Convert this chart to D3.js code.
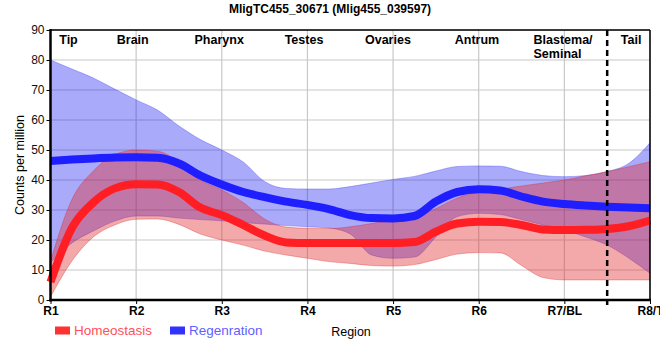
<!DOCTYPE html>
<html><head><meta charset="utf-8">
<script src="https://cdn.jsdelivr.net/npm/d3@7"></script>
<style>body{margin:0;background:#fff}svg{display:block;font-family:"Liberation Sans",Arial,sans-serif}</style>
</head><body>
<svg id="c" width="660" height="360"></svg>
<script>
const title = "MligTC455_30671 (Mlig455_039597)";
const regions = ["R1","R2","R3","R4","R5","R6","R7/BL","R8/T"];
const yTicks = [0,10,20,30,40,50,60,70,80,90];
const tissueNames = ["Tip","Brain","Pharynx","Testes","Ovaries","Antrum","Blastema/|Seminal","Tail"];
const tissuePos = [0.21,0.96,1.97,2.96,3.94,4.98,5.64,6.78];
const seriesNames = ["Homeostasis","Regenration"];
const pos = [0,0.25,0.5,0.75,1,1.25,1.5,1.75,2,2.25,2.5,2.75,3,3.25,3.5,3.75,4,4.25,4.5,4.75,5,5.25,5.5,5.75,6,6.25,6.5,6.75,7];
const homeoMean  = [6,24,32.5,37.2,38.6,38.5,36,30.8,28.3,25,21.5,19.2,19,19,19,19,19,19.3,22.8,25.5,26.1,26,25,23.5,23.3,23.4,23.7,24.6,26.5];
const homeoUpper = [13,33.5,43,48.5,50,49.6,46,40,36.7,32.5,27,24.3,23.9,23.8,24.4,25.5,26.7,27.8,30.5,34,36.1,37,38,39,40,41.4,42.8,44.4,46.1];
const homeoLower = [1,13,21,25,26.9,27,25.2,22,20,18.3,16.3,15,13.9,12.8,12.2,11.5,11.3,11.8,13.5,15.3,15.8,15.7,11.5,7.5,6.7,6.7,6.7,6.7,6.7];
const regenMean  = [46.3,46.8,47.2,47.5,47.6,47.4,45.5,41.5,38.5,36,34.3,32.8,31.7,30.3,28.3,27.3,27.2,28,32.8,36,36.9,36.5,34.5,32.8,32,31.5,31.1,30.8,30.6];
const regenUpper = [80,77,74,70.3,66.7,63.3,58,53.5,50,46,39.5,37.2,37,37,37.8,39,40.2,41.2,43,44.5,44.7,44.6,42.8,41.5,41.1,41.5,42.8,45.5,52.4];
const regenLower = [12.5,19,23,26.3,28,28,27.3,26.8,26.4,25.8,25.3,24.8,24.4,24,22,15,13.9,14.3,21,27.8,28.9,28.5,26.8,25,23.3,21,18.3,14,8.9];
const boundaryPos = 6.5;

const svg = d3.select("#c");
const L = 50.5, R = 650, T = 30, B = 300;
const x = d3.scaleLinear().domain([0,7]).range([L,R]);
const y = d3.scaleLinear().domain([0,90]).range([B,T]);

svg.append("defs").append("clipPath").attr("id","clip")
  .append("rect").attr("x",L).attr("y",T).attr("width",R-L).attr("height",B-T);

// grid
const g = svg.append("g");
g.selectAll(".gy").data(yTicks).join("line")
  .attr("x1",L).attr("x2",R).attr("y1",d=>y(d)).attr("y2",d=>y(d))
  .attr("stroke","#c8c8c8").attr("stroke-width",1.2);
g.selectAll(".gx").data(d3.range(regions.length)).join("line")
  .attr("x1",d=>x(d)).attr("x2",d=>x(d)).attr("y1",T).attr("y2",B)
  .attr("stroke","#c8c8c8").attr("stroke-width",1.2);

const pts = (arr) => pos.map((p,i)=>({p, v:arr[i]}));
const band = (lo,hi) => pos.map((p,i)=>({p, lo:lo[i], hi:hi[i]}));
const area = d3.area().x(d=>x(d.p)).y0(d=>y(d.lo)).y1(d=>y(d.hi)).curve(d3.curveMonotoneX);
const line = d3.line().x(d=>x(d.p)).y(d=>y(d.v)).curve(d3.curveMonotoneX);

const plot = svg.append("g").attr("clip-path","url(#clip)");
plot.append("path").attr("d",area(band(regenLower,regenUpper)))
  .attr("fill","rgb(20,20,245)").attr("fill-opacity",0.36)
  .attr("stroke","rgb(60,60,240)").attr("stroke-opacity",0.35).attr("stroke-width",1);
svg.append("path").attr("d",line(pts(regenMean)))
  .attr("fill","none").attr("stroke","rgb(30,30,255)").attr("stroke-width",8);
plot.append("path").attr("d",area(band(homeoLower,homeoUpper)))
  .attr("fill","rgb(225,40,40)").attr("fill-opacity",0.4)
  .attr("stroke","rgb(220,40,40)").attr("stroke-opacity",0.35).attr("stroke-width",1);
svg.append("path").attr("d",line(pts(homeoMean)))
  .attr("fill","none").attr("stroke","rgb(255,30,35)").attr("stroke-width",8);

// dashed boundary
svg.append("line").attr("x1",x(boundaryPos)).attr("x2",x(boundaryPos)).attr("y1",T).attr("y2",B+5)
  .attr("stroke","#000").attr("stroke-width",2.5).attr("stroke-dasharray","6,4");

// borders
svg.append("line").attr("x1",L).attr("x2",R).attr("y1",T).attr("y2",T).attr("stroke","#000").attr("stroke-width",1.5);
svg.append("line").attr("x1",R).attr("x2",R).attr("y1",T).attr("y2",B).attr("stroke","#000").attr("stroke-width",1.5);

// axes
const ya = svg.append("g").attr("transform",`translate(${L},0)`)
  .call(d3.axisLeft(y).tickValues(yTicks).tickSize(4).tickPadding(2));
ya.select(".domain").remove();
ya.selectAll("text").attr("font-size",12).attr("fill","#111").attr("font-family","Liberation Sans, Arial");
const xa = svg.append("g").attr("transform",`translate(0,${B})`)
  .call(d3.axisBottom(x).tickValues(d3.range(regions.length)).tickFormat(i=>regions[i]).tickSize(4).tickPadding(2));
xa.select(".domain").remove();
xa.selectAll("text").attr("font-size",12).attr("font-weight","bold").attr("fill","#000").attr("font-family","Liberation Sans, Arial");
svg.append("line").attr("x1",L).attr("x2",L).attr("y1",T-1).attr("y2",B+1.5).attr("stroke","#000").attr("stroke-width",2.5);
svg.append("line").attr("x1",L-1).attr("x2",R+1).attr("y1",B).attr("y2",B).attr("stroke","#000").attr("stroke-width",2.5);

// tissue labels
tissueNames.forEach((t,i)=>{
  const parts = t.split("|");
  const multi = parts.length>1;
  const tx = svg.append("text").attr("x",x(tissuePos[i])).attr("y",44)
    .attr("text-anchor",multi?"start":"middle").attr("font-size",12.5).attr("font-weight","bold").attr("fill","#000");
  parts.forEach((p,j)=>tx.append("tspan").attr("x",x(tissuePos[i])).attr("dy",j?14:0).text(p));
});

// title
svg.append("text").attr("x",330).attr("y",13).attr("text-anchor","middle")
  .attr("font-size",12).attr("font-weight","bold").text(title);
// y label
svg.append("text").attr("transform","translate(24,165) rotate(-90)").attr("text-anchor","middle")
  .attr("font-size",12.5).text("Counts per million");
// x label
svg.append("text").attr("x",351).attr("y",336).attr("text-anchor","middle").attr("font-size",12.5).text("Region");

// legend
const legColors = ["rgb(255,50,50)","rgb(50,50,255)"];
const legText = ["rgb(255,80,90)","rgb(95,95,255)"];
const legX = [55,170];
seriesNames.forEach((s,i)=>{
  svg.append("rect").attr("x",legX[i]).attr("y",326.5).attr("width",15).attr("height",8).attr("fill",legColors[i]);
  svg.append("text").attr("x",legX[i]+19).attr("y",335).attr("font-size",13.5).attr("fill",legText[i]).text(s);
});
</script>
</body></html>
